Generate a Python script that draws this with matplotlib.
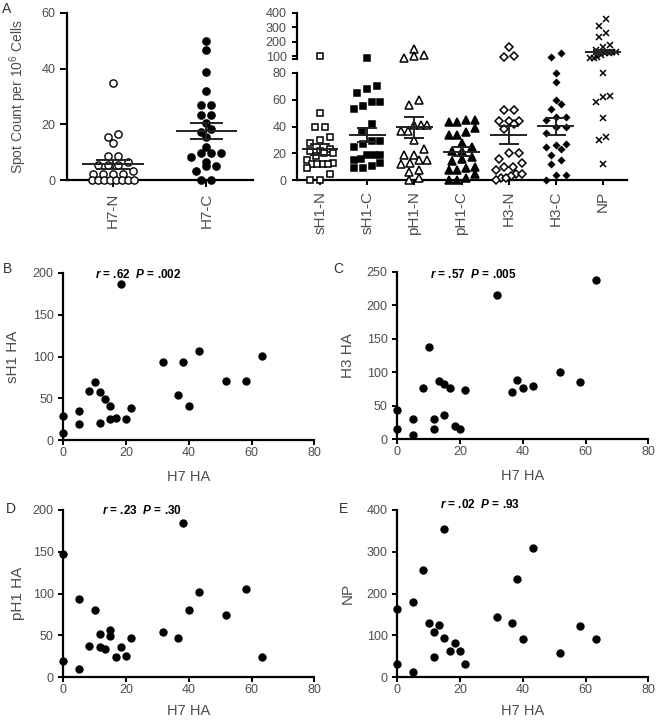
import numpy as np
import matplotlib
matplotlib.use('Agg')
import matplotlib.pyplot as plt

plt.rcParams['font.family'] = ['Liberation Sans', 'DejaVu Sans']
plt.rcParams['mathtext.fontset'] = 'custom'
plt.rcParams['mathtext.rm'] = 'Liberation Sans'
plt.rcParams['mathtext.it'] = 'Liberation Sans:italic:bold'
plt.rcParams['mathtext.bf'] = 'Liberation Sans:bold'

# ---- panel A data (spot counts per 10^6 cells) ----
left_cats = ['H7-N', 'H7-C']
h7_n = [35, 16.6, 15.4, 13.3, 8.7, 8.7, 6.7, 5.5, 5.5, 5.5, 3.4, 2.1, 2.1, 2.1, 2.1,
        0, 0, 0, 0, 0, 0, 0, 0]
h7_c = [50, 46.7, 38.6, 31.8, 26.9, 26.9, 23.4, 23.4, 20.4, 18.4, 17.4, 15.4, 11.8,
        9.9, 9.9, 9.9, 8.5, 6.7, 5.1, 5.1, 3.4, 0, 0]
left_means = [5.7, 17.7]
left_sems = [1.65, 2.9]

right_cats = ['sH1-N', 'sH1-C', 'pH1-N', 'pH1-C', 'H3-N', 'H3-C', 'NP']
sh1_n = [100, 50, 40, 40, 32, 30, 28, 23, 22, 22, 20, 20, 18, 15, 13, 12, 12, 12, 12, 9, 5, 0, 0]
sh1_c = [86, 70, 68, 65, 58, 58, 55, 53, 42, 37, 29, 29, 27, 25, 19, 19, 19, 16, 15, 13, 11, 9, 9]
ph1_n = [150, 105, 100, 88, 60, 56, 41, 41, 41, 37, 37, 30, 23, 19, 19, 15, 15, 13, 12, 8, 6, 2, 0]
ph1_c = [45, 45, 43, 43, 39, 36, 34, 34, 28, 25, 22, 22, 17, 16, 14, 10, 9, 8, 8, 5, 2, 0, 0]
h3_n = [160, 100, 92, 52, 52, 44, 44, 44, 42, 38, 20, 20, 16, 13, 10, 10, 8, 5, 5, 3, 2, 2, 0]
h3_c = [124, 92, 80, 73, 60, 57, 53, 47, 47, 45, 40, 40, 35, 27, 26, 25, 23, 19, 15, 12, 4, 4, 0]
np_vals = [355, 307, 257, 235, 178, 162, 143, 128, 128, 124, 121, 108, 93, 90, 89, 80,
           63, 62, 58, 46, 32, 30, 12]
right_means = [23.0, 33.7, 39.4, 21.3, 33.9, 40.3, 130]
right_sems = [4.3, 5.0, 7.7, 3.5, 6.8, 6.3, 14]

# ---- panels B-E: correlation with H7 HA ----
h7_ha = [0, 0, 5, 5, 8.3, 10, 11.7, 11.7, 13.3, 15, 15, 16.7, 18.3, 20, 21.7,
         31.7, 36.7, 38.3, 40, 43.3, 51.7, 58.3, 63.3]
sh1_ha = [29, 9, 35, 19, 59, 69, 58, 21, 49, 41, 25, 27, 186, 26, 38, 94, 54, 94, 41, 106, 71, 71, 101]
h3_ha = [44, 15, 31, 7, 77, 138, 31, 16, 87, 83, 36, 77, 20, 15, 74, 215, 70, 88, 77, 80, 100, 85, 238]
ph1_ha = [147, 19, 94, 10, 37, 81, 52, 36, 34, 56, 49, 24, 36, 26, 47, 54, 47, 184, 81, 102, 75, 105, 24]
np_ha = [163, 32, 179, 12, 257, 129, 109, 48, 126, 355, 94, 62, 81, 64, 31, 144, 129, 236, 91, 308, 59, 122, 91]

W, H = 656, 720
fig = plt.figure(figsize=(W / 100, H / 100), dpi=100)
GREY = '#4d4d4d'


def add_ax(l, t, r, b):
    # axes from pixel edges (left, top, right, bottom)
    return fig.add_axes([l / W, 1 - b / H, (r - l) / W, (b - t) / H])


def style_ax(ax, tick_len=3.5):
    for s in ['top', 'right']:
        ax.spines[s].set_visible(False)
    for s in ['left', 'bottom']:
        ax.spines[s].set_linewidth(1.6)
    ax.tick_params(width=1.4, length=tick_len, labelcolor=GREY, labelsize=9)
    ax.patch.set_visible(False)


def swarm_x(ax, center, vals, step_px, group_px, max_w):
    # column scatter: points of similar value go side by side in one row,
    # rows that would get too wide are squeezed
    vals = np.asarray(vals, float)
    pts = np.column_stack([np.full(len(vals), center), vals])
    ypx = ax.transData.transform(pts)[:, 1]
    ux = ax.transData.transform([(1, 0)])[0, 0] - ax.transData.transform([(0, 0)])[0, 0]
    xs = np.full(len(vals), float(center))
    rows, row = [], []
    for idx in np.argsort(ypx, kind='stable'):
        if row and ypx[idx] - ypx[row[0]] > group_px:
            rows.append(row)
            row = []
        row.append(idx)
    rows.append(row)
    for row in rows:
        k = len(row)
        step = step_px if k < 2 else min(step_px, max_w / (k - 1))
        for j, idx in enumerate(row):
            xs[idx] = center + (j - (k - 1) / 2) * step / ux
    return xs


def mean_sem(ax, c, m, s, half_m, half_s):
    kw = dict(color='#222222', lw=1.4, zorder=5, clip_on=False)
    ax.hlines(m, c - half_m, c + half_m, **kw)
    ax.hlines([m - s, m + s], c - half_s, c + half_s, **kw)
    ax.vlines(c, m - s, m + s, **kw)


# ---------------- Panel A left ----------------
axL = add_ax(66.5, 12.7, 253, 180.3)
style_ax(axL, tick_len=5)
axL.set_xlim(-0.5, 1.5)
axL.set_ylim(0, 60)
axL.set_yticks([0, 20, 40, 60])
axL.set_xticks(range(len(left_cats)))
axL.set_xticklabels(left_cats, rotation=90, fontsize=11)
axL.tick_params(axis='y', pad=3)
axL.tick_params(axis='x', pad=4)
for i, (vals, fc) in enumerate(zip([h7_n, h7_c], ['white', 'black'])):
    xs = swarm_x(axL, i, vals, 10.0, 5.0, 42.0)
    axL.plot(xs, vals, 'o', mfc=fc, mec='black', ms=5.2, mew=1.0, clip_on=False, zorder=3)
    mean_sem(axL, i, left_means[i], left_sems[i], 0.33, 0.18)
axL.set_ylabel('Spot Count per 10$^6$ Cells', fontsize=10, color=GREY)
axL.yaxis.set_label_coords(-0.2, 0.5)

# ---------------- Panel A right (broken axis) ----------------
axT = add_ax(296.5, 12.7, 626.5, 59.0)
axB = add_ax(296.5, 72.7, 626.5, 180.3)
style_ax(axT)
style_ax(axB)
for ax in (axT, axB):
    ax.set_xlim(-0.5, len(right_cats) - 0.5)
axT.set_ylim(80, 400)
axT.set_yticks([100, 200, 300, 400])
axT.set_yticks([80], minor=True)
axT.tick_params(axis='y', which='minor', length=3.5, width=1.4)
axT.spines['bottom'].set_visible(False)
axT.tick_params(axis='x', bottom=False, labelbottom=False)
axT.spines['left'].set_bounds(80, 400)
axB.set_ylim(0, 80)
axB.set_yticks([0, 20, 40, 60, 80])
axB.set_xticks(range(len(right_cats)))
axB.set_xticklabels(right_cats, rotation=90, fontsize=11)
axB.tick_params(axis='x', pad=4)

right_vals = [sh1_n, sh1_c, ph1_n, ph1_c, h3_n, h3_c, np_vals]
right_marks = [('s', 'white', 4.6), ('s', 'black', 4.6), ('^', 'white', 5.3), ('^', 'black', 5.3),
               ('D', 'white', 4.0), ('D', 'black', 3.0), ('x', 'black', 5.0)]
for i, vals in enumerate(right_vals):
    mk, fc, ms = right_marks[i]
    v = np.asarray(vals, float)
    hi = v > 82
    for ax, sel in ((axT, hi), (axB, ~hi)):
        if sel.any():
            step = 7.0 if mk == 'x' else 10.0
            xs = swarm_x(ax, i, v[sel], step, 7.0, 26.0)
            ax.plot(xs, v[sel], mk, mfc=fc, mec='black', ms=ms, mew=1.1,
                    clip_on=False, zorder=3)
    target = axT if right_means[i] > 82 else axB
    mean_sem(target, i, right_means[i], right_sems[i], 0.39, 0.21)

# ---------------- Panels B-E ----------------
panels = [
    ((63.3, 272.7, 314.3, 440.3), sh1_ha, 200, 50, 'sH1 HA', -0.172, 'B', (3, 262),
     r'$r$ = .62  $P$ = .002', (95, 275), -0.18),
    ((397.3, 271.7, 648.3, 439.3), h3_ha, 250, 50, 'H3 HA', -0.168, 'C', (333, 262),
     r'$r$ = .57  $P$ = .005', (430, 275), -0.18),
    ((63.3, 510, 314.3, 677.3), ph1_ha, 200, 50, 'pH1 HA', -0.153, 'D', (6, 502),
     r'$r$ = .23  $P$ = .30', (101.7, 511), -0.158),
    ((397.3, 510, 648.3, 677.3), np_ha, 400, 100, 'NP', -0.168, 'E', (339, 502),
     r'$r$ = .02  $P$ = .93', (440, 505), -0.158),
]
for rect, yv, ytop, ystep, ylab, ylx, letter, lpos, ann, apos, xly in panels:
    ax = add_ax(*rect)
    style_ax(ax)
    ax.set_xlim(0, 80)
    ax.set_ylim(0, ytop)
    ax.set_xticks(range(0, 81, 20))
    ax.set_yticks(range(0, ytop + 1, ystep))
    ax.tick_params(axis='x', pad=1.5)
    ax.tick_params(axis='y', pad=3.5)
    ax.plot(h7_ha, yv, 'o', color='black', ms=5.0, clip_on=False, zorder=3)
    ax.set_ylabel(ylab, fontsize=11, color=GREY)
    ax.yaxis.set_label_coords(ylx, 0.5)
    ax.set_xlabel('H7 HA', fontsize=10.5, color=GREY)
    ax.xaxis.set_label_coords(0.5, xly)
    fig.text(lpos[0] / W, 1 - lpos[1] / H, letter, fontsize=10, color='#333333',
             ha='left', va='top')
    fig.text(apos[0] / W, 1 - apos[1] / H, ann, fontsize=8.5, fontweight='bold',
             ha='left', va='center')

fig.text(2 / W, 1 - 2 / H, 'A', fontsize=10, color='#333333', ha='left', va='top')

fig.savefig('out.png', dpi=100)
